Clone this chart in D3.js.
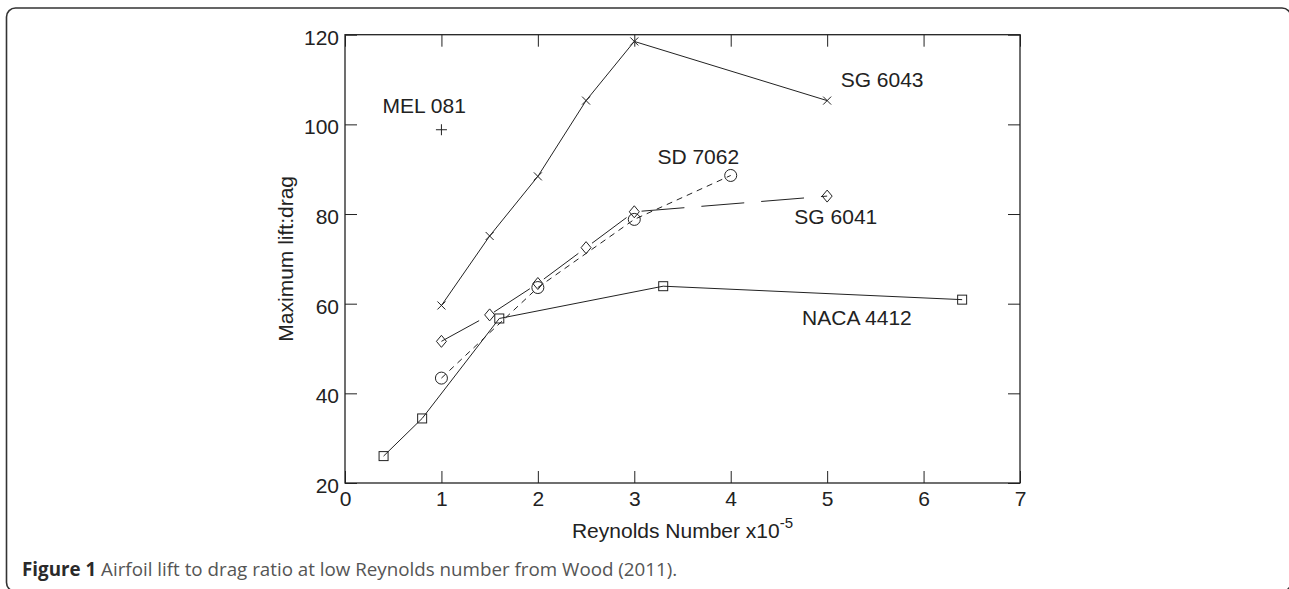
<!DOCTYPE html>
<html>
<head>
<meta charset="utf-8">
<script src="https://cdn.jsdelivr.net/npm/d3@7"></script>
<style>
  html, body { margin: 0; padding: 0; background: #fff; }
  svg { display: block; }
</style>
</head>
<body>
<svg id="chart" width="1289" height="589"></svg>
<script>
// ---- Data ----
const xTicks = [0, 1, 2, 3, 4, 5, 6, 7];
const yTicks = [20, 40, 60, 80, 100, 120];

const nacaX = [0.4, 0.8, 1.6, 3.3, 6.4];
const nacaY = [26.0, 34.4, 56.7, 63.9, 60.9];

const sg6043X = [1, 1.5, 2, 2.5, 3, 5];
const sg6043Y = [59.6, 75.1, 88.4, 105.3, 118.5, 105.3];

const sd7062X = [1, 2, 3, 4];
const sd7062Y = [43.4, 63.6, 78.8, 88.6];

const sg6041X = [1, 1.5, 2, 2.5, 3, 5];
const sg6041Y = [51.6, 57.5, 64.5, 72.5, 80.5, 84.0];

const mel081X = [1];
const mel081Y = [98.8];

const seriesNames = ["MEL 081", "SG 6043", "SD 7062", "SG 6041", "NACA 4412"];
const xTitle = "Reynolds Number x10";
const xTitleSup = "-5";
const yTitle = "Maximum lift:drag";
const captionBold = "Figure 1";
const captionText = " Airfoil lift to drag ratio at low Reynolds number from Wood (2011).";

// ---- Layout ----
const svg = d3.select("#chart");
const L = 345, R = 1020, T = 34.7, B = 483;
const x = d3.scaleLinear().domain([0, 7]).range([L, R]);
const y = d3.scaleLinear().domain([20, 120]).range([B, T]);
const ink = "#222";
const font = "'Liberation Sans', Arial, Helvetica, sans-serif";

// outer rounded frame (right and bottom edges fall just outside the picture)
svg.append("rect")
  .attr("x", 6.5).attr("y", 8).attr("width", 1284.5).attr("height", 583.5)
  .attr("rx", 9).attr("ry", 9)
  .attr("fill", "none").attr("stroke", "#333").attr("stroke-width", 1.6);

// axes
const tickLen = 12;
const gB = svg.append("g").attr("transform", `translate(0,${B})`)
  .call(d3.axisBottom(x).tickValues(xTicks).tickSize(-tickLen).tickFormat(d3.format("d")));
gB.selectAll("text").attr("y", 23).attr("dy", null);
const gT = svg.append("g").attr("transform", `translate(0,${T})`)
  .call(d3.axisTop(x).tickValues(xTicks).tickSize(-tickLen).tickFormat(""));
const gL = svg.append("g").attr("transform", `translate(${L},0)`)
  .call(d3.axisLeft(y).tickValues(yTicks).tickSize(-tickLen).tickFormat(d3.format("d")));
gL.selectAll("text").attr("x", -6).attr("dy", "0.45em");
const gR = svg.append("g").attr("transform", `translate(${R},0)`)
  .call(d3.axisRight(y).tickValues(yTicks).tickSize(-tickLen).tickFormat(""));

[gB, gT, gL, gR].forEach(g => {
  g.select(".domain").remove();
  g.selectAll(".tick line").attr("stroke", ink).attr("stroke-width", 1);
  g.selectAll("text").attr("font-family", font).attr("font-size", 21).attr("fill", ink);
});

// plot box
svg.append("rect")
  .attr("x", L).attr("y", T).attr("width", R - L).attr("height", B - T)
  .attr("fill", "none").attr("stroke", ink).attr("stroke-width", 1.3);

// lines
const line = d3.line().x(d => x(d[0])).y(d => y(d[1]));
const zip = (a, b) => a.map((v, i) => [v, b[i]]);

function drawSeries(xs, ys, dash, marker) {
  const pts = zip(xs, ys);
  if (pts.length > 1) {
    svg.append("path").datum(pts).attr("d", line)
      .attr("fill", "none").attr("stroke", ink).attr("stroke-width", 1)
      .attr("stroke-dasharray", dash);
  }
  const g = svg.append("g").attr("fill", "none").attr("stroke", ink).attr("stroke-width", 1);
  pts.forEach(p => {
    const cx = x(p[0]), cy = y(p[1]);
    if (marker === "square") {
      g.append("rect").attr("x", cx - 4.5).attr("y", cy - 4.5).attr("width", 9).attr("height", 9);
    } else if (marker === "circle") {
      g.append("circle").attr("cx", cx).attr("cy", cy).attr("r", 6);
    } else if (marker === "diamond") {
      g.append("path").attr("d", `M${cx},${cy - 6}L${cx + 5},${cy}L${cx},${cy + 6}L${cx - 5},${cy}Z`);
    } else if (marker === "x") {
      const s = 4;
      g.append("path").attr("d", `M${cx - s},${cy - s}L${cx + s},${cy + s}M${cx - s},${cy + s}L${cx + s},${cy - s}`);
    } else if (marker === "plus") {
      const s = 5.5;
      g.append("path").attr("d", `M${cx - s},${cy}L${cx + s},${cy}M${cx},${cy - s}L${cx},${cy + s}`);
    }
  });
}

drawSeries(nacaX, nacaY, null, "square");
drawSeries(sg6043X, sg6043Y, null, "x");
drawSeries(sd7062X, sd7062Y, "6,5", "circle");
drawSeries(sg6041X, sg6041Y, "43,17", "diamond");
drawSeries(mel081X, mel081Y, null, "plus");

// series labels (anchored in data coordinates)
const labelAt = [[0.39, 102.5], [5.14, 108.3], [3.24, 91.2], [4.66, 77.8], [4.74, 55.2]];
seriesNames.forEach((n, i) => {
  svg.append("text")
    .attr("x", x(labelAt[i][0])).attr("y", y(labelAt[i][1]))
    .attr("font-family", font).attr("font-size", 21).attr("fill", ink)
    .text(n);
});

// axis titles
const xt = svg.append("text")
  .attr("x", (L + R) / 2).attr("y", 538)
  .attr("text-anchor", "middle")
  .attr("font-family", font).attr("font-size", 21).attr("fill", ink);
xt.append("tspan").text(xTitle);
xt.append("tspan").attr("font-size", 15).attr("dy", -10).text(xTitleSup);

svg.append("text")
  .attr("transform", `translate(293,${(T + B) / 2}) rotate(-90)`)
  .attr("text-anchor", "middle")
  .attr("font-family", font).attr("font-size", 21).attr("fill", ink)
  .text(yTitle);

// caption
const cap = svg.append("text")
  .attr("x", 22).attr("y", 576)
  .attr("font-family", "'Open Sans', 'Noto Sans', sans-serif").attr("font-size", 18);
cap.append("tspan").attr("font-weight", "bold").attr("fill", "#2a2a2a").text(captionBold);
cap.append("tspan").attr("fill", "#555").text(captionText);
const w = cap.node().getComputedTextLength();
cap.attr("font-size", 18 * 656 / w);
</script>
</body>
</html>
